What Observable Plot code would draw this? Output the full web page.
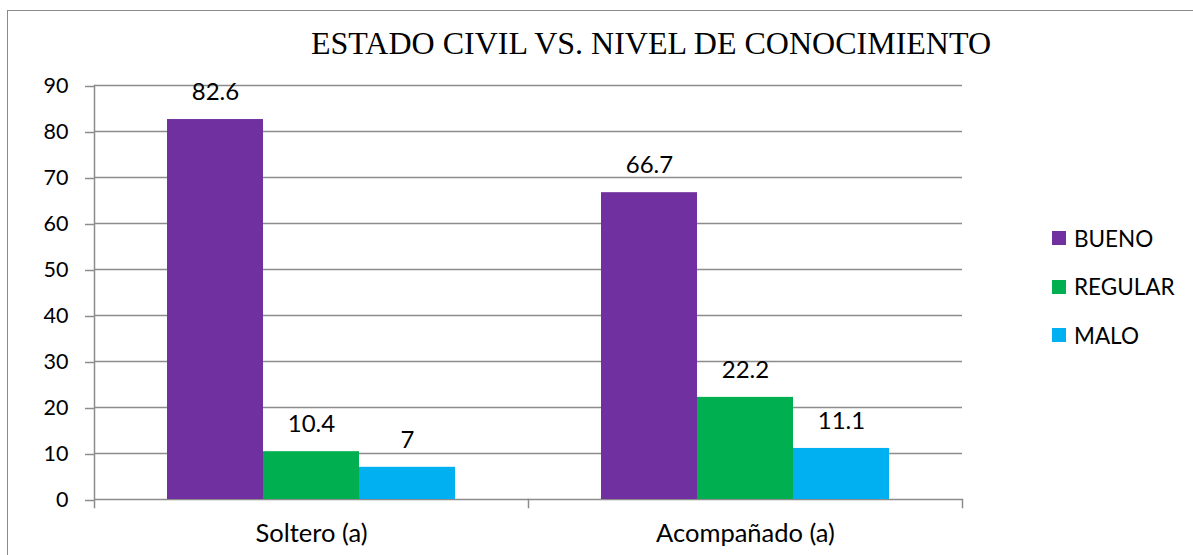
<!DOCTYPE html>
<html>
<head>
<meta charset="utf-8">
<script src="https://cdn.jsdelivr.net/npm/d3@7"></script>
<script src="https://cdn.jsdelivr.net/npm/@observablehq/plot@0.6"></script>
<style>
  html, body { margin: 0; padding: 0; background: #fff; overflow: hidden; }
  #wrap { position: relative; width: 1193px; height: 555px; overflow: hidden; background: #fff; }
  #border { position: absolute; left: 7px; top: 10px; width: 1300px; height: 700px; border-left: 1.5px solid #8a8a8a; border-top: 1.5px solid #8a8a8a; }
  #chart { position: absolute; left: 0; top: 0; }
  #title { position: absolute; left: 0; width: 1302px; top: 27px; line-height: 32px; text-align: center; font-family: "Liberation Serif", "Times New Roman", serif; font-size: 32px; color: #000; white-space: nowrap; }
  #legend { position: absolute; left: 1052px; top: 224px; font-family: Lato, sans-serif; font-size: 22.5px; color: #000; }
  .item { display: flex; align-items: center; height: 28px; margin-bottom: 20.5px; }
  .sw { width: 14px; height: 14px; margin-right: 8px; }
</style>
</head>
<body>
<div id="wrap">
  <div id="border"></div>
  <div id="chart"></div>
  <div id="title"></div>
  <div id="legend"></div>
</div>
<script>
const title = "ESTADO CIVIL VS. NIVEL DE CONOCIMIENTO";
const categories = ["Soltero (a)", "Acompañado (a)"];
const series = ["BUENO", "REGULAR", "MALO"];
const bueno = [82.6, 66.7];
const regular = [10.4, 22.2];
const malo = [7, 11.1];
const colors = ["#7030A0", "#00B050", "#00B0F0"];
const yTicks = [0, 10, 20, 30, 40, 50, 60, 70, 80, 90];

const values = [bueno, regular, malo];
const data = categories.flatMap((c, i) => series.map((s, j) => ({cat: c, ser: s, val: values[j][i]})));

const gray = "#8c8c8c";
const plotH = 555, mTop = 85, mBottom = 56;
const frameH = plotH - mTop - mBottom;

const chart = Plot.plot({
  width: 1193,
  height: plotH,
  marginLeft: 93,
  marginRight: 231,
  marginTop: mTop,
  marginBottom: mBottom,
  style: {fontFamily: "Lato, sans-serif", fontSize: "22px", color: "#000", background: "transparent", overflow: "visible"},
  fx: {domain: categories, paddingInner: 0, paddingOuter: 0, axis: null, label: null},
  x: {domain: series, paddingInner: 0, paddingOuter: 0.745, axis: null, label: null},
  y: {domain: [0, 90], axis: null, label: null},
  color: {domain: series, range: colors},
  marks: [
    Plot.gridY(yTicks, {stroke: gray, strokeOpacity: 1, strokeWidth: 1.5}),
    Plot.axisY(yTicks, {tickSize: 9, tickPadding: 17, stroke: gray, strokeWidth: 1.5, fill: "#000", fontSize: 21.5, dy: 1, label: null}),
    Plot.frame({anchor: "left", facetAnchor: "left", insetBottom: -8, stroke: gray, strokeWidth: 1.5}),
    Plot.frame({anchor: "left", facetAnchor: "right", insetTop: frameH, insetBottom: -8, stroke: gray, strokeWidth: 1.5}),
    Plot.frame({anchor: "right", facetAnchor: "right", insetTop: frameH, insetBottom: -8, stroke: gray, strokeWidth: 1.5}),
    Plot.barY(data, {fx: "cat", x: "ser", y: "val", fill: "ser"}),
    Plot.text(data, {fx: "cat", x: "ser", y: "val", text: d => String(d.val), dy: -27, fontSize: 24, fill: "#000"}),
    Plot.axisFx({anchor: "bottom", tickSize: 0, tickPadding: 24, fontSize: 25.5, fill: "#000", label: null})
  ]
});
document.getElementById("chart").appendChild(chart);

document.getElementById("title").textContent = title;
const legend = document.getElementById("legend");
series.forEach((s, i) => {
  const item = document.createElement("div");
  item.className = "item";
  const sw = document.createElement("span");
  sw.className = "sw";
  sw.style.background = colors[i];
  const t = document.createElement("span");
  t.textContent = s;
  item.appendChild(sw);
  item.appendChild(t);
  legend.appendChild(item);
});
</script>
</body>
</html>
